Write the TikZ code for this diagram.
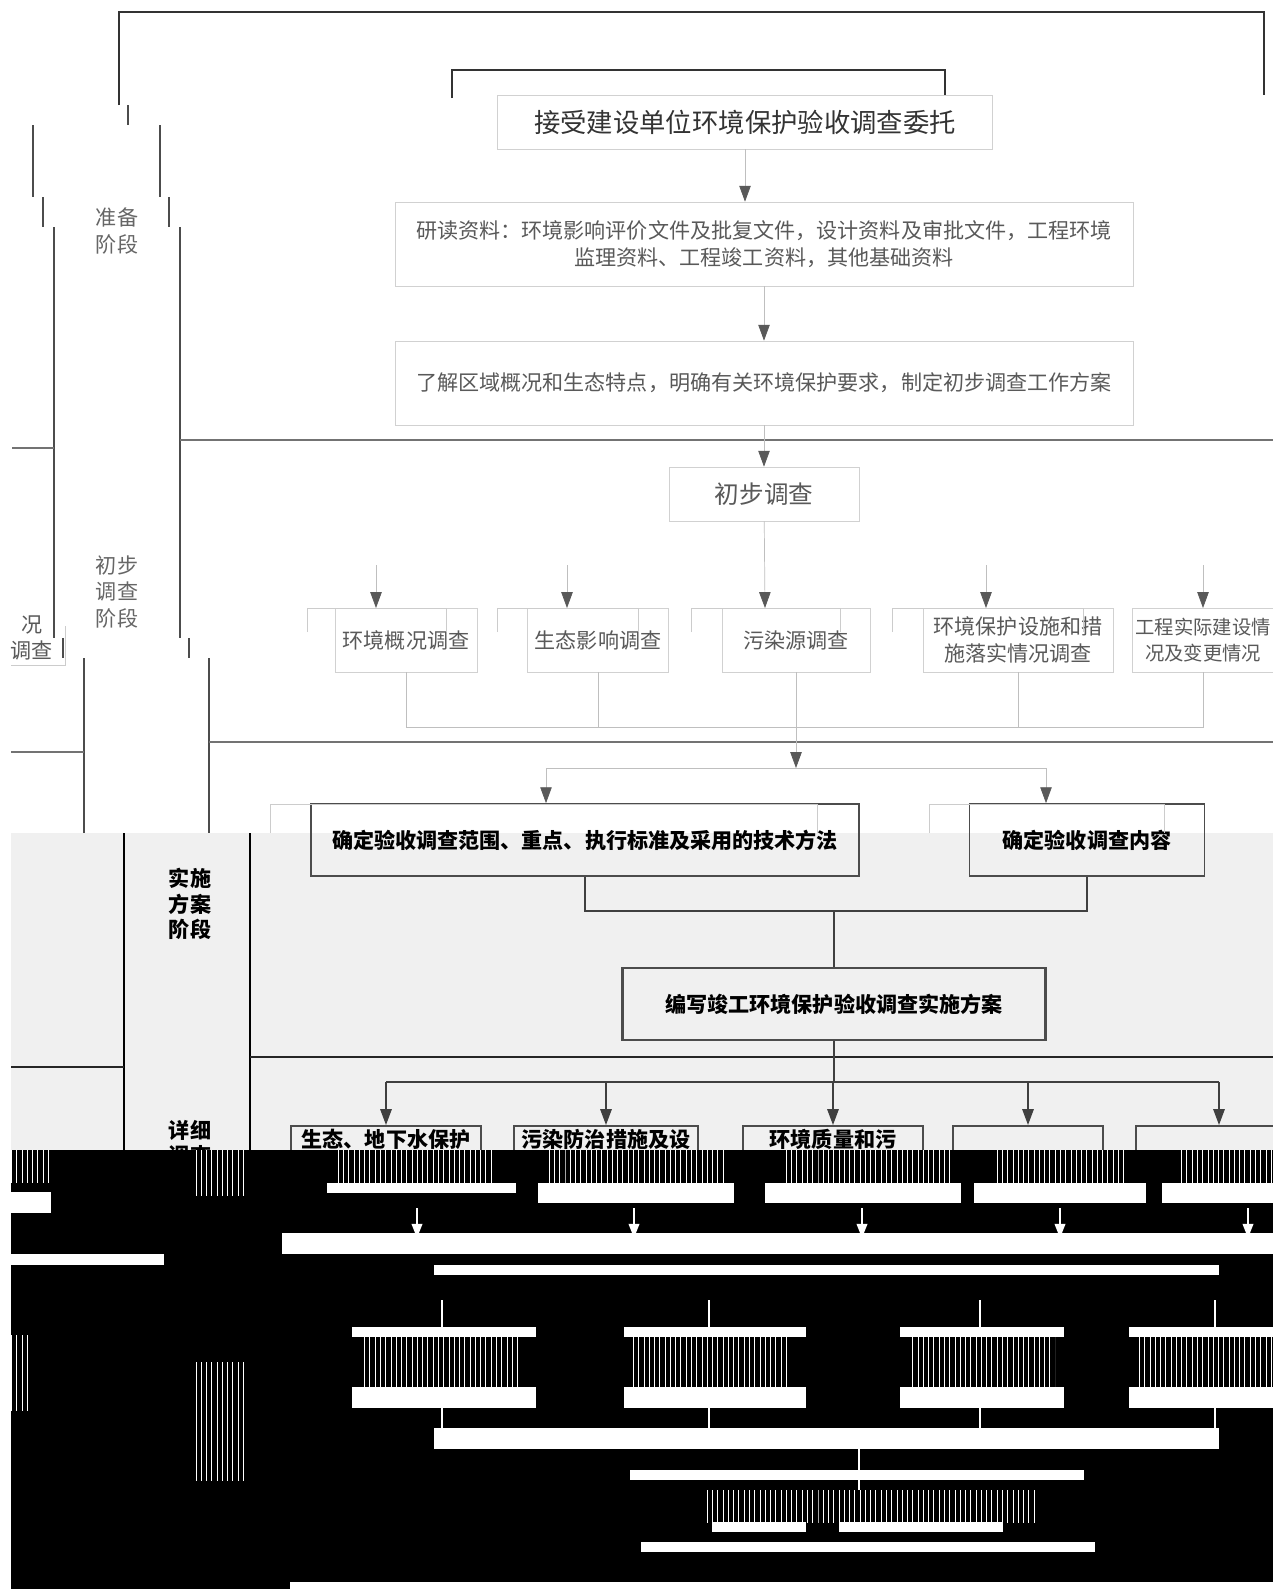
\documentclass[tikz,border=0pt]{standalone}
\usepackage{fontspec}
\setmainfont{Noto Sans CJK SC}
\usetikzlibrary{arrows.meta,patterns}

\begin{document}
\begin{tikzpicture}[
    x=0.02cm, y=-0.02cm,
    font=\fontsize{12}{15}\selectfont,
    frame/.style={line width=1.6pt, draw=black!80},
    lane/.style={line width=0.9pt, draw=black!70},
    sep/.style={line width=1.5pt, draw=black!55},
    msep/.style={line width=1.5pt, draw=black!85},
    ghost/.style={draw=black!20},
    link/.style={draw=black!25},
    arr/.style={link, -{Triangle[length=9pt,width=6.5pt,color=black!65]}},
    tbox/.style={rectangle, draw=black!18, text=black!65, align=center, inner sep=2pt},
    lanetxt/.style={text=black!60, align=center, font=\fontsize{12}{15.3}\selectfont},
    mbox/.style={rectangle, draw=black!70, line width=1pt, align=center,
        font=\bfseries\fontsize{12}{15}\selectfont},
    dbox/.style={mbox, anchor=north, inner ysep=2pt},
    mlink/.style={draw=black!75, line width=0.8pt},
    marr/.style={mlink, -{Triangle[length=9pt,width=6.5pt]}},
    lanebf/.style={align=center, font=\bfseries\fontsize{12}{14.5}\selectfont},
    noise/.style={pattern=vertical lines, pattern color=white}
  ]
  \useasboundingbox (0,0) rectangle (1273,1589);
  \fill[white] (0,0) rectangle (1273,1589);
  \fill[black!6] (11,833) rectangle (1273,1150);

  % outer frame and stage lanes
  \draw[frame] (119,105) -- (119,12) -- (1264,12) -- (1264,95);
  \draw[frame, line width=1.2pt] (452,98) -- (452,70) -- (945,70) -- (945,96);
  \draw[lane] (128,105) -- (128,125);
  \draw[lane] (33,125) -- (33,197) (160,125) -- (160,197);
  \draw[lane] (43,197) -- (43,227) (169,197) -- (169,227);
  \draw[lane] (54,227) -- (54,638) (180,227) -- (180,638);
  \draw[lane] (63,638) -- (63,658) (189,638) -- (189,658);
  \draw[lane] (84,658) -- (84,833) (209,658) -- (209,833);
  \draw[lane, draw=black] (124,833) -- (124,1150) (250,833) -- (250,1150);
  \draw[sep] (180,440) -- (1273,440) (12,448) -- (54,448);
  \draw[sep] (209,742) -- (1273,742) (11,752) -- (84,752);
  \draw[msep] (250,1057) -- (1273,1057) (11,1067) -- (124,1067);

  \node[lanetxt] (st1) at (117,231) {准备\\阶段};
  \node[lanetxt] (st2) at (117,592) {初步\\调查\\阶段};
  \node[lanebf] (st3) at (190,904) {实施\\方案\\阶段};
  \node[lanebf] (st4) at (190,1143) {详细\\调查};

  % preparation
  \node[tbox, text=black!80, minimum width=9.9cm, minimum height=1.08cm,
    font=\fontsize{15}{18}\selectfont] (wt) at (745,122) {接受建设单位环境保护验收调查委托};
  \node[tbox, minimum width=14.76cm, minimum height=1.68cm,
    font=\fontsize{12}{15.3}\selectfont] (zl) at (764,244)
    {研读资料：环境影响评价文件及批复文件，设计资料及审批文件，工程环境\\监理资料、工程竣工资料，其他基础资料};
  \node[tbox, minimum width=14.76cm, minimum height=1.68cm] (fa) at (764,383)
    {了解区域概况和生态特点，明确有关环境保护要求，制定初步调查工作方案};
  \draw[arr] (wt.south) -- (wt.south |- zl.north);
  \draw[arr] (zl) -- (fa);

  % preliminary survey
  \node[tbox, minimum width=3.8cm, minimum height=1.08cm,
    font=\fontsize{14}{17}\selectfont] (cb) at (764,494) {初步调查};
  \draw[arr] (fa) -- (cb);

  \node[tbox, minimum width=2.84cm, minimum height=1.28cm] (ea) at (406,640) {环境概况调查};
  \node[tbox, minimum width=2.82cm, minimum height=1.28cm] (eb) at (598,640) {生态影响调查};
  \node[tbox, minimum width=2.96cm, minimum height=1.28cm] (ec) at (796,640) {污染源调查};
  \node[tbox, minimum width=3.8cm, minimum height=1.28cm] (ed) at (1018,640) {环境保护设施和措\\施落实情况调查};
  \node[tbox, minimum width=2.8cm, minimum height=1.28cm,
    font=\fontsize{11}{14.5}\selectfont] (ee) at (1203,640) {工程实际建设情\\况及变更情况};
  \node[tbox, draw=none] (gl) at (32,638) {况\\调查};
  \draw[ghost] (11,665) -| (65,626);
  \foreach \a/\b in {307/446,497/638,691/840,892/1083}
    \draw[ghost] (\a,632) -- (\a,608) -- (\b,608) -- (\b,632);

  \foreach \x [count=\i] in {376,567,765,986,1203}
    \coordinate (in\i) at (\x,608);
  \foreach \i in {1,2,4,5}
    \draw[arr] (in\i) ++(0,-43) -- (in\i);
  \draw[arr] (cb) -- (in3);

  \coordinate (j1) at (796,727);
  \draw[link] (ea.south) |- (j1) (ee.south) |- (j1);
  \draw[link] (eb.south) -- (eb.south |- j1) (ed.south) -- (ed.south |- j1);

  % implementation plan
  \node[mbox, minimum width=10.96cm, minimum height=1.44cm] (fw) at (585,840)
    {确定验收调查范围、重点、执行标准及采用的技术方法};
  \node[mbox, minimum width=4.7cm, minimum height=1.44cm] (nr) at (1087,840) {确定验收调查内容};
  \draw[ghost] (270,833) -- (270,804) -- (817,804) -- (817,833);
  \draw[ghost] (929,833) -- (929,804) -- (1164,804) -- (1164,833);

  \coordinate (fl) at (546,768);
  \coordinate (gr) at (1046,768);
  \draw[arr] (ec.south) -- (ec.south |- fl);
  \draw[link] (fl) -- (gr);
  \draw[arr] (fl) -- (fl |- fw.north);
  \draw[arr] (gr) -- (gr |- nr.north);

  \node[mbox, minimum width=8.46cm, minimum height=1.44cm, line width=1.2pt] (bx) at (834,1004)
    {编写竣工环境保护验收调查实施方案};
  \coordinate (j3) at (834,911);
  \draw[mlink] (fw.south) |- (j3) -| (nr.south);
  \draw[mlink] (j3) -- (bx);

  % detailed survey
  \node[dbox, minimum width=3.8cm] (d1) at (386,1125) {生态、地下水保护\\~};
  \node[dbox, minimum width=3.68cm] (d2) at (606,1125) {污染防治措施及设\\~};
  \node[dbox, minimum width=3.6cm] (d3) at (833,1125) {环境质量和污\\~};
  \node[dbox, minimum width=3cm] (d4) at (1028,1125) {~\\~};
  \node[dbox, minimum width=3.32cm] (d5) at (1219,1125) {~\\~};
  \coordinate (j4) at (834,1082);
  \draw[mlink] (bx) -- (j4);
  \draw[mlink] (d1.north |- j4) -- (d5.north |- j4);
  \foreach \n in {1,...,5}
    \draw[marr] (d\n.north |- j4) -- (d\n.north);

  % damaged lower part of the scan
  \fill[black] (11,1150) rectangle (1273,1589);
  \foreach \a/\b/\c/\d in {327/1183/516/1193, 538/1183/734/1203, 765/1183/961/1203,
      974/1183/1146/1203, 1162/1183/1273/1203, 11/1192/51/1213, 282/1233/1273/1254,
      11/1254/164/1265, 434/1265/1219/1275, 352/1327/536/1337, 624/1327/806/1337,
      900/1327/1064/1337, 1129/1327/1273/1337, 352/1387/536/1408, 624/1387/806/1408,
      900/1387/1064/1408, 1129/1387/1273/1408, 434/1428/1219/1449, 630/1470/1084/1480,
      712/1522/806/1532, 839/1522/1003/1532, 641/1542/1095/1552, 290/1582/1273/1589}
    \fill[white] (\a,\b) rectangle (\c,\d);
  \foreach \a/\b/\c/\d in {336/1150/494/1183, 548/1150/725/1183, 785/1150/950/1183,
      995/1150/1128/1183, 1178/1150/1273/1183, 196/1150/245/1195, 11/1150/51/1182,
      362/1337/518/1387, 630/1337/788/1387, 910/1337/1055/1387, 1135/1337/1273/1387,
      196/1362/245/1480, 704/1490/1035/1522, 11/1335/28/1410}
    \fill[noise] (\a,\b) rectangle (\c,\d);
  \foreach \x in {417,634,862,1060,1248}
    \draw[white, line width=1pt, -{Triangle[length=8pt,width=6pt]}] (\x,1208) -- (\x,1238);
  \foreach \x in {442,709,980,1215}
    \draw[white, line width=1.5pt] (\x,1300) -- (\x,1327) (\x,1408) -- (\x,1428);
  \draw[white, line width=1.5pt] (859,1449) -- (859,1490);
\end{tikzpicture}
\end{document}
